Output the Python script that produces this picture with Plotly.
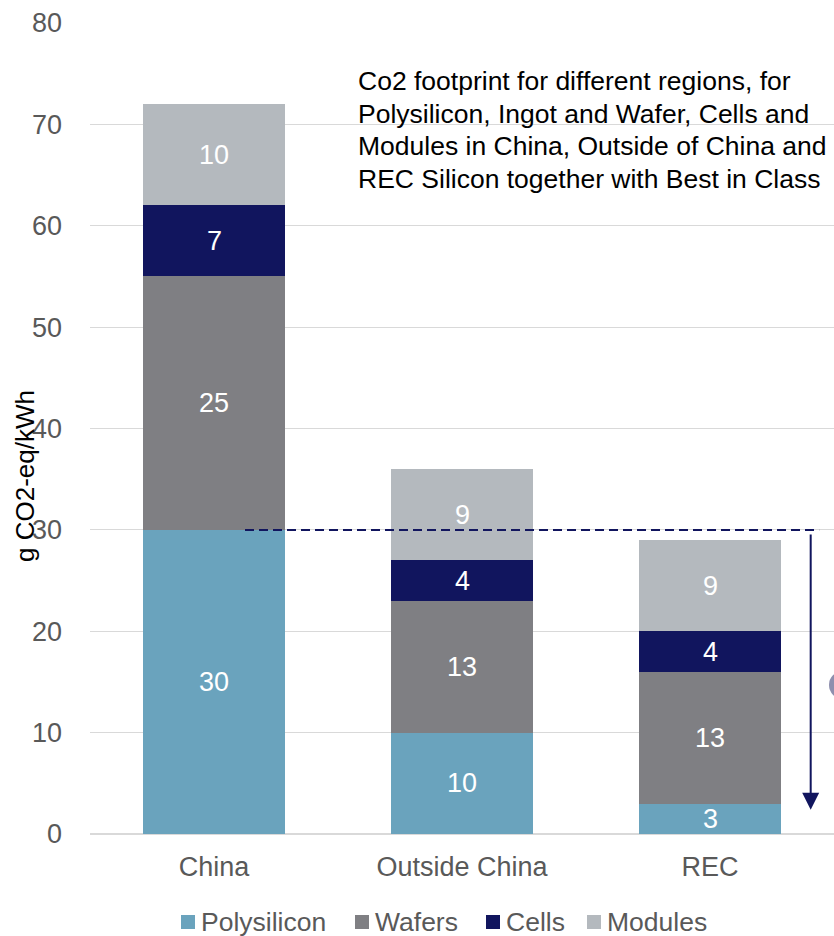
import plotly.graph_objects as go

# Stacked CO2 footprint by region and production step
regions = ["China", "Outside China", "REC"]
polysilicon = [30, 10, 3]
wafers = [25, 13, 13]
cells = [7, 4, 4]
modules = [10, 9, 9]
series_names = ["Polysilicon", "Wafers", "Cells", "Modules"]
y_ticks = [0, 10, 20, 30, 40, 50, 60, 70, 80]
best_in_class = 30
note_lines = [
    "Co2 footprint for different regions, for",
    "Polysilicon, Ingot and Wafer, Cells and",
    "Modules in China, Outside of China and",
    "REC Silicon together with Best in Class",
]

colors = ["#6aa3bd", "#7f7f83", "#11155e", "#b4b9be"]
FONT = "Liberation Sans, Arial, sans-serif"
GREY_TXT = "#595959"
NAVY = "#11155e"

W, H = 834, 936
L, R, T, B = 90, 0, 23, 102
pw = W - L - R
ph = H - T - B


def px_to_paper_x(px):
    return (px - L) / pw


def px_to_paper_y(py):
    return (H - B - py) / ph


fig = go.Figure()
series = [polysilicon, wafers, cells, modules]
for name, vals, col in zip(series_names, series, colors):
    fig.add_trace(go.Bar(
        name=name, x=regions, y=vals, width=0.57,
        marker=dict(color=col, line=dict(width=0)),
        showlegend=False, hoverinfo="x+y+name",
    ))

# Segment value labels at the middle of each stacked segment
base = [0] * len(regions)
for vals in series:
    for i, v in enumerate(vals):
        fig.add_annotation(x=regions[i], y=base[i] + v / 2, text=str(v),
                           showarrow=False, xref="x", yref="y",
                           font=dict(size=27, color="white", family=FONT))
        base[i] += v

fig.update_layout(
    barmode="stack",
    width=W, height=H,
    margin=dict(l=L, r=R, t=T, b=B),
    plot_bgcolor="white", paper_bgcolor="white",
    font=dict(family=FONT, color=GREY_TXT, size=27),
    showlegend=False,
)
fig.update_yaxes(range=[0, 80], tickvals=y_ticks, showgrid=True, gridcolor="#d9d9d9",
                 gridwidth=1, zeroline=True, zerolinecolor="#d9d9d9", showline=False,
                 ticks="", ticklabelstandoff=27, tickfont=dict(size=27, color=GREY_TXT))
fig.update_xaxes(showgrid=False, showline=False, ticks="", zeroline=False,
                 ticklabelstandoff=14,
                 tickfont=dict(size=27, color=GREY_TXT), range=[-0.5, 2.5])

# Y axis title, placed over the tick labels
fig.add_annotation(text="g CO2-eq/kWh", textangle=-90, xref="paper", yref="paper",
                   x=px_to_paper_x(25), y=px_to_paper_y(476), xanchor="center",
                   yanchor="middle", showarrow=False,
                   font=dict(size=26, color="black", family=FONT))

# Descriptive note
for i, line in enumerate(note_lines):
    fig.add_annotation(text=line, xref="paper", yref="paper",
                       x=px_to_paper_x(356), y=px_to_paper_y(81 + 32.7 * i),
                       xanchor="left", yanchor="middle", showarrow=False,
                       font=dict(size=26.5, color="black", family=FONT))

# Best-in-class reference line
fig.add_shape(type="line", xref="x", yref="y", x0=0.125, x1=2.44,
              y0=best_in_class, y1=best_in_class,
              line=dict(color=NAVY, width=2, dash="9px,5px"))

# Reduction arrow
fig.add_annotation(x=2.406, y=2.4, ax=2.406, ay=29.7, xref="x", yref="y",
                   axref="x", ayref="y", showarrow=True, arrowhead=2,
                   arrowsize=1.7, arrowwidth=2, arrowcolor=NAVY, text="")

# Marker at right edge
fig.add_shape(type="circle", xref="paper", yref="paper",
              x0=px_to_paper_x(829), x1=px_to_paper_x(857),
              y0=px_to_paper_y(671), y1=px_to_paper_y(699),
              fillcolor="#8e8fae", line=dict(width=0), layer="above")

# Legend row below the axis
legend_left = [181, 355, 486, 587]
sq = 14
ly = 922
for name, col, lx in zip(series_names, colors, legend_left):
    fig.add_shape(type="rect", xref="paper", yref="paper",
                  x0=px_to_paper_x(lx), x1=px_to_paper_x(lx + sq),
                  y0=px_to_paper_y(ly + sq / 2), y1=px_to_paper_y(ly - sq / 2),
                  fillcolor=col, line=dict(width=0))
    fig.add_annotation(text=name, xref="paper", yref="paper",
                       x=px_to_paper_x(lx + sq + 4), y=px_to_paper_y(ly),
                       xanchor="left", yanchor="middle", showarrow=False,
                       font=dict(size=26.5, color=GREY_TXT, family=FONT))

fig.write_html("out.html")
